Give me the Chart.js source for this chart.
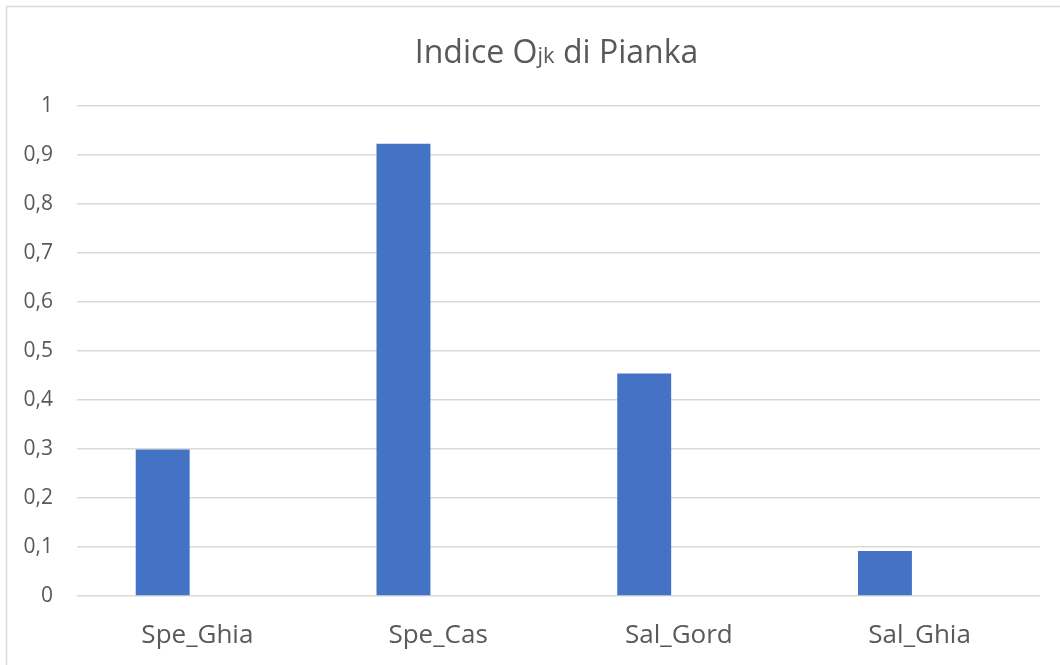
<!DOCTYPE html>
<html>
<head>
<meta charset="utf-8">
<script src="https://cdn.jsdelivr.net/npm/chart.js@4"></script>
<style>
  html, body { margin: 0; padding: 0; background: #fff; }
  #wrap { width: 1060px; height: 665px; position: relative; }
</style>
</head>
<body>
<div id="wrap"><canvas id="chart"></canvas></div>
<script>
// data
const categories = ['Spe_Ghia', 'Spe_Cas', 'Sal_Gord', 'Sal_Ghia'];
const overlapValues = [0.299, 0.923, 0.454, 0.092];
const emptySeries = [null, null, null, null];   // second (empty) series keeps the bars off-centre
const yMin = 0;
const yMax = 1;
const yStep = 0.1;

const FONT = '"Open Sans", Lato, sans-serif';
const TEXT = '#595959';
const GRID = '#d9d9d9';

function fmtTick(v) {
  const r = Math.round(v * 10) / 10;
  if (r === 0) return '0';
  if (r === 1) return '1';
  return r.toFixed(1).replace('.', ',');
}

// frame and title (O with small "jk")
const frameAndTitle = {
  id: 'frameAndTitle',
  beforeDraw(chart) {
    const ctx = chart.ctx;
    ctx.save();
    ctx.strokeStyle = GRID;
    ctx.lineWidth = 1.5;
    ctx.strokeRect(6.5, 6.5, 1200, 800);
    ctx.restore();
  },
  afterDraw(chart) {
    const ctx = chart.ctx;
    const parts = [
      { t: 'Indice O', size: 32 },
      { t: 'jk', size: 22 },
      { t: ' di Pianka', size: 32 }
    ];
    ctx.save();
    ctx.fillStyle = TEXT;
    ctx.textBaseline = 'alphabetic';
    ctx.textAlign = 'left';
    let total = 0;
    parts.forEach(p => {
      ctx.font = p.size + 'px ' + FONT;
      p.w = ctx.measureText(p.t).width;
      total += p.w;
    });
    const area = chart.chartArea;
    let x = (area.left + area.right) / 2 - total / 2 - 2;
    parts.forEach(p => {
      ctx.font = p.size + 'px ' + FONT;
      ctx.fillText(p.t, x, 63);
      x += p.w;
    });
    ctx.restore();
  }
};

new Chart(document.getElementById('chart'), {
  type: 'bar',
  data: {
    labels: categories,
    datasets: [
      {
        label: 'Indice Ojk di Pianka',
        data: overlapValues,
        backgroundColor: '#4472c4',
        borderWidth: 0
      },
      {
        label: '',
        data: emptySeries,
        backgroundColor: '#ed7d31',
        borderWidth: 0
      }
    ]
  },
  options: {
    responsive: true,
    maintainAspectRatio: false,
    animation: false,
    datasets: {
      bar: { categoryPercentage: 0.576, barPercentage: 0.778 }
    },
    layout: { padding: { top: 106, right: 20, left: 0, bottom: 0 } },
    plugins: {
      legend: { display: false },
      title: { display: false },
      tooltip: { enabled: false }
    },
    scales: {
      x: {
        grid: { display: false },
        border: { display: false },
        ticks: {
          color: TEXT,
          font: { family: FONT, size: 26 },
          padding: 16
        },
        afterFit(scale) { scale.height = 69; }
      },
      y: {
        min: yMin,
        max: yMax,
        grid: { color: GRID, lineWidth: 1.5, drawTicks: false },
        border: { display: false },
        ticks: {
          stepSize: yStep,
          color: TEXT,
          font: { family: FONT, size: 21 },
          padding: 24,
          callback: v => fmtTick(v)
        },
        afterFit(scale) { scale.width = 77; }
      }
    }
  },
  plugins: [frameAndTitle]
});
</script>
</body>
</html>
